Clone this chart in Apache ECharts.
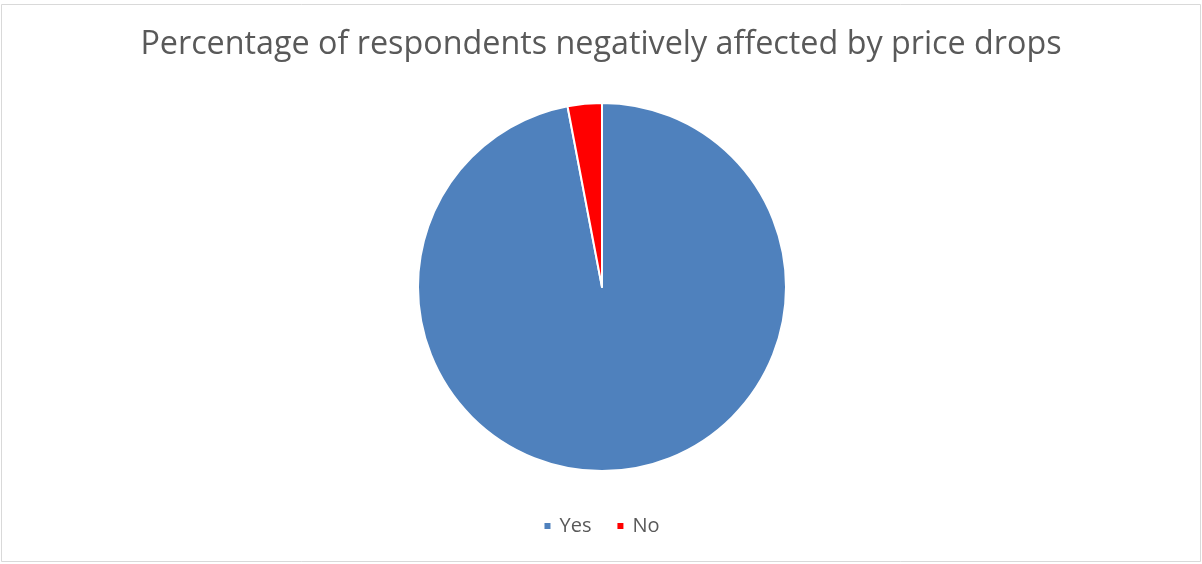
<!DOCTYPE html>
<html><head><meta charset="utf-8">
<script src="https://cdn.jsdelivr.net/npm/echarts@6/dist/echarts.min.js"></script>
<style>html,body{margin:0;padding:0;background:#fff}#c{width:1202px;height:564px}</style>
</head><body><div id="c"></div>
<script>
const titleText = 'Percentage of respondents negatively affected by price drops';
const categories = ['Yes', 'No'];
const values = [97, 3];
const colors = ['#4F81BD', '#FF0000'];

const chart = echarts.init(document.getElementById('c'), null, {renderer: 'canvas'});
chart.setOption({
  animation: false,
  backgroundColor: '#fff',
  title: {
    text: titleText, left: 'center', top: 24,
    textStyle: {fontFamily: 'Open Sans', fontSize: 32.3, fontWeight: 'normal', color: '#595959'}
  },
  legend: {
    bottom: 23, left: 'center', itemWidth: 8, itemHeight: 8, itemGap: 24,
    icon: 'rect',
    textStyle: {fontFamily: 'Open Sans', fontSize: 20, color: '#595959', padding: [0, 0, 0, 3]},
    data: categories
  },
  graphic: [{
    type: 'rect', shape: {x: 1.5, y: 4.5, width: 1199, height: 557},
    style: {fill: 'none', stroke: '#d9d9d9', lineWidth: 1}, silent: true
  }],
  series: [{
    type: 'pie', center: [602, 287], radius: [0, 184],
    startAngle: 90, clockwise: true,
    label: {show: false}, labelLine: {show: false},
    itemStyle: {borderColor: '#fff', borderWidth: 2},
    emphasis: {disabled: true},
    data: categories.map((c, i) => ({name: c, value: values[i], itemStyle: {color: colors[i]}}))
  }]
});
</script></body></html>
